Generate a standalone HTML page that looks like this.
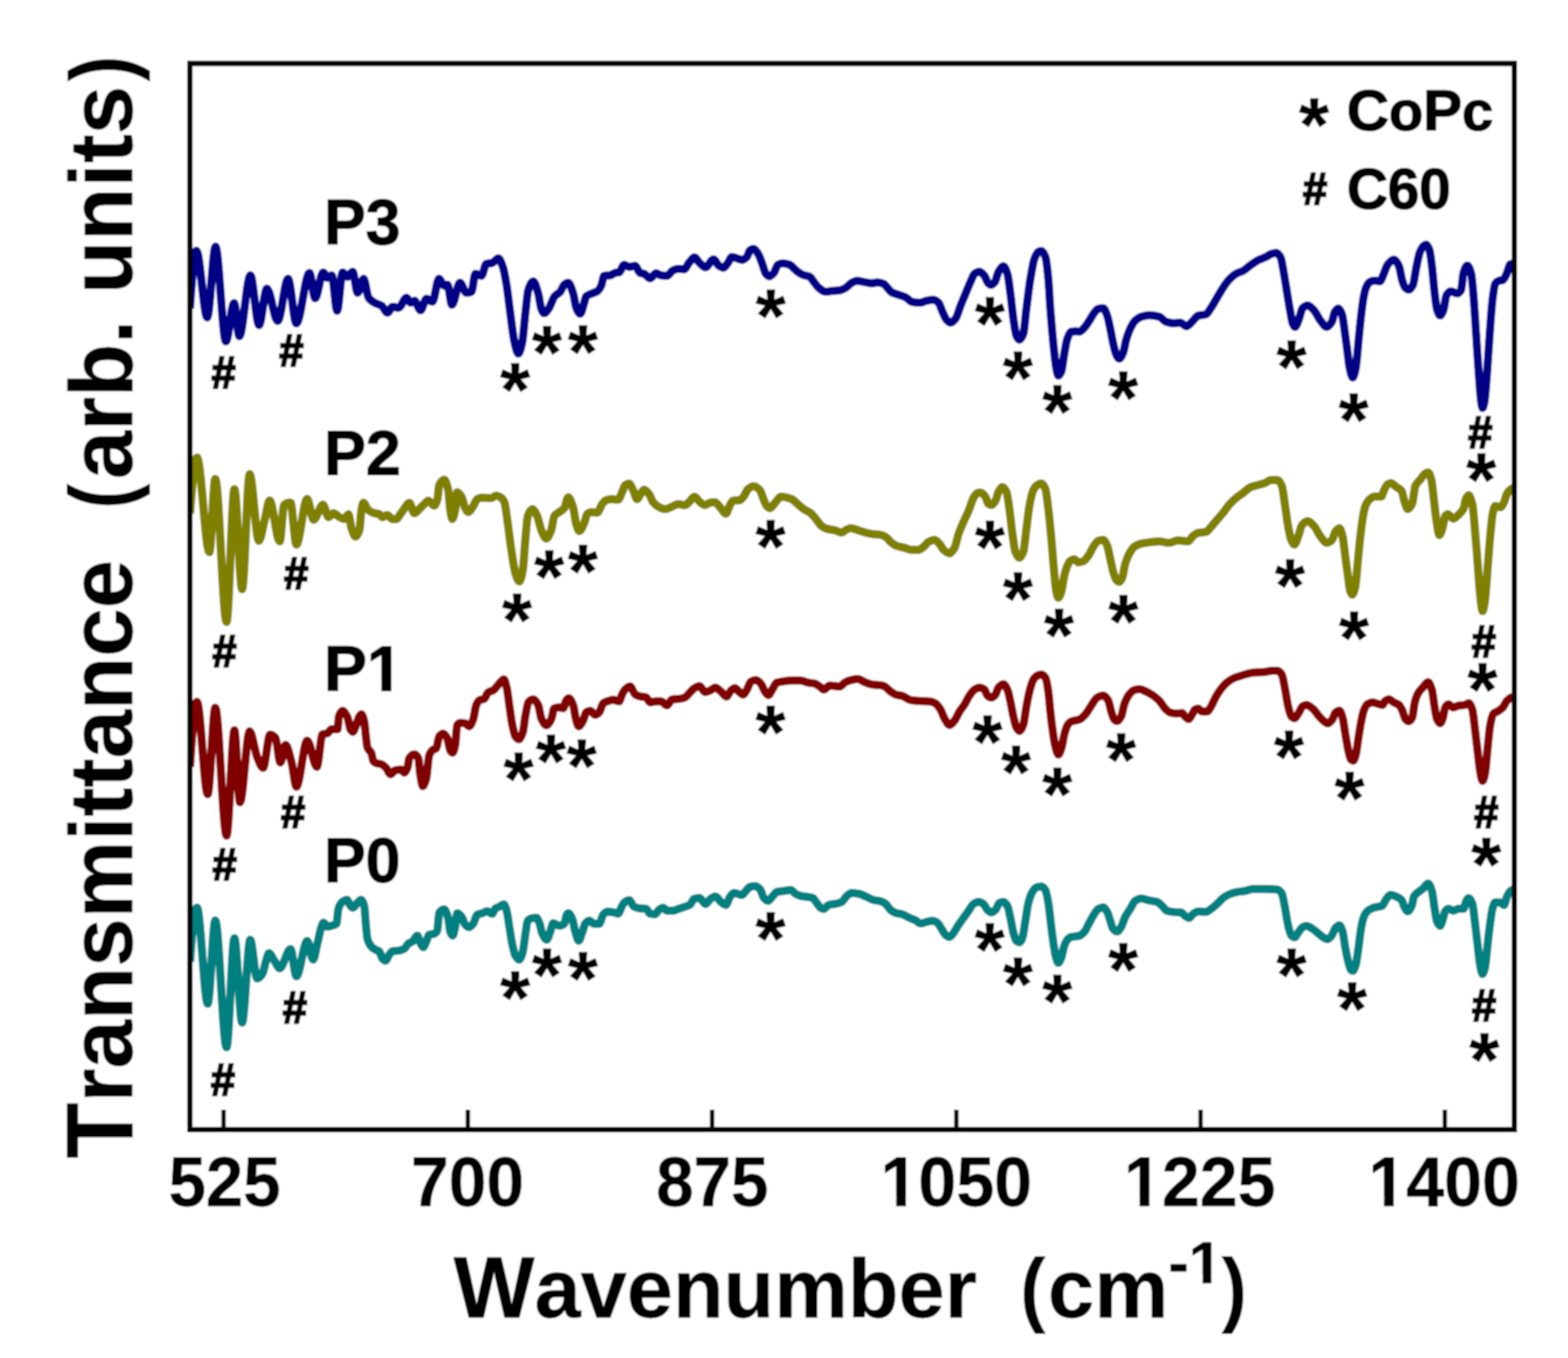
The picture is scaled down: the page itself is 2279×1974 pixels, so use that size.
<!DOCTYPE html>
<html lang="en"><head><meta charset="utf-8"><title>FTIR transmittance spectra</title>
<style>html,body{margin:0;padding:0;background:#fff}body{width:2279px;height:1974px;overflow:hidden}svg{display:block}text{font-family:"Liberation Sans",Arial,Helvetica,sans-serif;fill:#000;font-kerning:none;font-variant-ligatures:none;font-feature-settings:"liga" 0,"clig" 0,"calt" 0,"dlig" 0}.c{fill:none;stroke-linejoin:round;stroke-linecap:butt}</style>
</head><body>
<svg width="2279" height="1974" viewBox="0 0 2279 1974">
<defs><filter id="b" x="-2%" y="-2%" width="104%" height="104%"><feGaussianBlur stdDeviation="1.0"/></filter></defs>
<g filter="url(#b)">
<rect x="0" y="0" width="2279" height="1974" fill="#fff"/>
<clipPath id="cp"><rect x="276" y="92.3" width="1925" height="1549.7"/></clipPath>
<g clip-path="url(#cp)">
<path class="c" d="M276.2,1398.1C279.6,1349.6 282.9,1319.2 286.3,1319.2C291.5,1319.2 296.7,1459.1 301.9,1459.1C305.6,1459.1 309.2,1338.0 312.9,1338.0C318.4,1338.0 323.8,1522.3 329.3,1522.3C333.1,1522.3 336.9,1363.8 340.7,1363.8C344.4,1363.8 348.2,1486.4 351.9,1486.4C355.8,1486.4 359.8,1366.1 363.7,1366.1C367.1,1366.1 370.4,1422.3 373.8,1422.3C376.4,1422.3 379.0,1419.2 381.6,1415.3C383.2,1412.9 384.7,1402.9 386.3,1398.1C387.9,1393.3 389.4,1385.6 391.0,1385.6C393.6,1385.6 396.2,1393.0 398.8,1396.6C401.4,1400.2 404.0,1407.5 406.6,1407.5C411.8,1407.5 417.0,1379.4 422.2,1379.4C425.1,1379.4 427.9,1419.2 430.8,1419.2C436.0,1419.2 441.3,1367.7 446.5,1367.7C449.4,1367.7 452.2,1395.0 455.1,1395.0C457.2,1395.0 459.2,1379.7 461.3,1371.6C463.3,1363.7 465.3,1352.2 467.3,1347.0C468.3,1344.5 469.2,1341.2 470.2,1341.2C472.1,1341.2 474.1,1347.0 476.0,1347.0C477.9,1347.0 479.9,1346.2 481.8,1345.6C484.2,1344.9 486.6,1344.8 489.0,1342.7C490.0,1341.9 490.9,1323.8 491.9,1320.9C493.8,1315.0 495.8,1312.2 497.7,1310.8C499.9,1309.2 502.0,1307.9 504.2,1307.9C505.9,1307.9 507.6,1314.8 509.3,1316.6C510.5,1317.9 511.7,1319.5 512.9,1319.5C515.1,1319.5 517.3,1314.3 519.5,1312.2C521.2,1310.6 522.9,1307.9 524.6,1307.9C526.3,1307.9 527.9,1311.7 529.6,1318.0C530.3,1320.8 531.1,1336.5 531.8,1344.1C532.5,1351.7 533.3,1361.7 534.0,1364.4C535.9,1371.5 537.9,1374.0 539.8,1376.1C541.7,1378.2 543.7,1379.2 545.6,1380.4C547.5,1381.6 549.5,1381.6 551.4,1383.3C552.8,1384.5 554.3,1392.0 555.7,1393.5C557.2,1395.0 558.6,1396.4 560.1,1396.4C562.0,1396.4 564.0,1390.2 565.9,1387.7C567.4,1385.8 568.8,1382.8 570.3,1382.6C573.2,1382.1 576.1,1382.3 579.0,1381.9C581.9,1381.5 584.8,1380.6 587.7,1379.0C589.6,1377.9 591.6,1373.1 593.5,1371.7C595.4,1370.3 597.4,1370.1 599.3,1368.8C601.7,1367.1 604.1,1360.1 606.5,1360.1C608.0,1360.1 609.4,1367.6 610.9,1370.3C612.3,1372.9 613.8,1376.8 615.2,1376.8C616.7,1376.8 618.1,1371.8 619.6,1368.8C621.0,1365.8 622.5,1359.1 623.9,1358.6C626.3,1357.7 628.8,1358.0 631.2,1357.2C632.6,1356.7 634.1,1355.6 635.5,1352.8C636.5,1350.9 637.4,1328.1 638.4,1326.7C640.8,1323.2 643.3,1321.7 645.7,1321.7C647.6,1321.7 649.6,1328.3 651.5,1335.4C652.5,1338.9 653.4,1351.7 654.4,1354.3C655.6,1357.5 656.8,1360.1 658.0,1360.1C659.2,1360.1 660.4,1352.7 661.6,1347.0C662.6,1342.4 663.5,1327.5 664.5,1327.5C666.9,1327.5 669.4,1330.8 671.8,1334.0C673.3,1336.0 674.7,1342.6 676.2,1344.1C678.1,1346.1 680.1,1347.8 682.0,1347.8C683.9,1347.8 685.9,1345.1 687.8,1342.7C689.7,1340.3 691.7,1330.6 693.6,1329.6C696.0,1328.3 698.4,1328.3 700.8,1327.5C703.2,1326.7 705.7,1324.6 708.1,1324.6C710.5,1324.6 712.9,1328.2 715.3,1328.2C716.8,1328.2 718.2,1322.0 719.7,1320.9C721.7,1319.4 723.8,1319.0 725.8,1318.0C728.0,1316.9 730.1,1314.4 732.3,1314.4C733.8,1314.4 735.2,1320.1 736.7,1325.3C737.9,1329.6 739.1,1339.8 740.3,1347.0C741.8,1355.8 743.2,1366.5 744.7,1373.2C746.1,1379.7 747.6,1386.8 749.0,1389.1C750.9,1392.2 752.9,1394.9 754.8,1394.9C756.5,1394.9 758.2,1389.3 759.9,1383.3C761.1,1379.1 762.3,1366.0 763.5,1358.6C764.7,1351.2 765.9,1339.6 767.1,1338.3C769.3,1335.9 771.5,1335.1 773.7,1334.7C775.6,1334.3 777.6,1334.0 779.5,1334.0C780.9,1334.0 782.4,1337.9 783.8,1341.2C785.3,1344.6 786.7,1354.2 788.2,1357.2C790.4,1361.6 792.5,1365.9 794.7,1365.9C796.4,1365.9 798.1,1358.6 799.8,1354.3C801.2,1350.7 802.7,1342.0 804.1,1342.0C807.0,1342.0 809.9,1345.6 812.8,1345.6C815.2,1345.6 817.7,1344.6 820.1,1342.7C821.3,1341.8 822.5,1331.3 823.7,1329.6C824.4,1328.5 825.2,1327.5 825.9,1327.5C827.8,1327.5 829.8,1331.3 831.7,1335.4C833.2,1338.5 834.6,1349.5 836.1,1354.3C837.8,1359.8 839.4,1367.4 841.1,1367.4C842.8,1367.4 844.5,1360.1 846.2,1355.7C847.7,1351.9 849.1,1344.5 850.6,1342.7C852.5,1340.3 854.5,1338.3 856.4,1338.3C858.8,1338.3 861.2,1342.7 863.6,1342.7C866.0,1342.7 868.5,1342.7 870.9,1342.7C872.8,1342.7 874.8,1331.8 876.7,1329.6C878.6,1327.4 880.6,1325.3 882.5,1325.3C885.4,1325.3 888.3,1325.6 891.2,1326.0C893.6,1326.3 896.0,1328.2 898.4,1328.2C900.3,1328.2 902.3,1319.6 904.2,1316.6C905.7,1314.3 907.1,1311.7 908.6,1310.8C910.5,1309.6 912.5,1308.6 914.4,1308.6C916.8,1308.6 919.2,1316.8 921.6,1318.0C924.0,1319.2 926.5,1319.9 928.9,1320.2C932.3,1320.6 935.7,1320.4 939.1,1320.9C941.0,1321.2 943.0,1327.8 944.9,1328.2C947.3,1328.6 949.7,1328.9 952.1,1328.9C954.0,1328.9 956.0,1323.7 957.9,1322.4C959.8,1321.1 961.8,1319.5 963.7,1319.5C965.6,1319.5 967.6,1323.8 969.5,1323.8C972.4,1323.8 975.3,1323.8 978.2,1323.8C981.1,1323.8 984.0,1321.9 986.9,1320.9C989.8,1319.9 992.7,1319.1 995.6,1318.0C998.0,1317.1 1000.5,1316.7 1002.9,1315.1C1004.8,1313.9 1006.8,1307.3 1008.7,1306.7C1011.4,1305.8 1014.0,1305.3 1016.7,1305.3C1019.6,1305.3 1022.5,1314.0 1025.4,1314.0C1027.8,1314.0 1030.2,1308.3 1032.6,1306.7C1035.0,1305.1 1037.5,1303.1 1039.9,1303.1C1042.6,1303.1 1045.2,1309.1 1047.9,1311.1C1050.3,1312.9 1052.7,1315.4 1055.1,1315.4C1057.0,1315.4 1059.0,1306.4 1060.9,1303.8C1062.8,1301.2 1064.8,1298.0 1066.7,1298.0C1070.6,1298.0 1074.4,1300.9 1078.3,1300.9C1080.2,1300.9 1082.2,1297.0 1084.1,1295.1C1086.0,1293.2 1088.0,1289.9 1089.9,1289.3C1092.3,1288.5 1094.8,1287.9 1097.2,1287.9C1099.6,1287.9 1102.0,1289.9 1104.4,1292.2C1106.4,1294.1 1108.3,1303.1 1110.3,1305.3C1112.2,1307.4 1114.2,1309.6 1116.1,1309.6C1118.5,1309.6 1120.9,1304.8 1123.3,1302.4C1125.2,1300.5 1127.2,1297.1 1129.1,1296.6C1132.5,1295.7 1135.9,1295.6 1139.3,1295.1C1142.7,1294.6 1146.0,1293.7 1149.4,1293.7C1151.8,1293.7 1154.3,1298.2 1156.7,1299.5C1159.1,1300.8 1161.5,1301.9 1163.9,1302.4C1167.3,1303.1 1170.7,1303.2 1174.1,1303.8C1176.5,1304.2 1178.9,1304.4 1181.3,1305.3C1183.2,1306.0 1185.2,1310.1 1187.1,1312.5C1189.0,1314.9 1191.0,1318.8 1192.9,1319.8C1194.4,1320.5 1195.8,1321.2 1197.3,1321.2C1199.7,1321.2 1202.1,1316.1 1204.5,1315.4C1207.4,1314.6 1210.3,1314.6 1213.2,1314.0C1216.6,1313.3 1220.0,1312.7 1223.4,1311.1C1225.8,1309.9 1228.3,1304.4 1230.7,1302.4C1233.1,1300.5 1235.5,1298.0 1237.9,1298.0C1241.8,1298.0 1245.6,1298.7 1249.5,1299.5C1252.9,1300.2 1256.3,1302.3 1259.7,1303.8C1263.1,1305.2 1266.4,1307.3 1269.8,1308.2C1273.7,1309.2 1277.5,1309.2 1281.4,1310.4C1283.4,1311.0 1285.3,1312.4 1287.3,1314.0C1289.7,1315.9 1292.1,1320.8 1294.5,1322.7C1296.9,1324.6 1299.4,1326.2 1301.8,1327.0C1305.2,1328.1 1308.5,1328.2 1311.9,1329.2C1315.3,1330.2 1318.7,1332.8 1322.1,1334.3C1325.0,1335.6 1327.9,1336.5 1330.8,1337.9C1333.2,1339.1 1335.6,1342.3 1338.0,1342.3C1340.9,1342.3 1343.8,1340.7 1346.7,1340.1C1349.6,1339.5 1352.5,1338.6 1355.4,1338.6C1357.8,1338.6 1360.3,1339.9 1362.7,1341.5C1364.6,1342.7 1366.6,1347.4 1368.5,1350.3C1370.4,1353.2 1372.4,1357.5 1374.3,1359.0C1376.2,1360.5 1378.2,1361.9 1380.1,1361.9C1382.0,1361.9 1384.0,1358.5 1385.9,1356.1C1388.3,1353.1 1390.8,1348.0 1393.2,1344.4C1395.6,1340.8 1398.0,1337.7 1400.4,1334.3C1402.8,1330.9 1405.3,1327.5 1407.7,1324.1C1410.1,1320.7 1412.5,1315.5 1414.9,1314.0C1417.3,1312.5 1419.8,1311.1 1422.2,1311.1C1424.6,1311.1 1427.0,1312.4 1429.4,1314.0C1431.3,1315.3 1433.3,1321.0 1435.2,1322.7C1437.1,1324.4 1439.1,1326.3 1441.0,1326.3C1442.9,1326.3 1444.9,1324.5 1446.8,1322.7C1448.7,1320.9 1450.7,1313.3 1452.6,1312.5C1454.5,1311.7 1456.5,1311.1 1458.4,1311.1C1460.3,1311.1 1462.3,1313.7 1464.2,1316.9C1465.7,1319.3 1467.1,1327.8 1468.6,1334.3C1470.0,1340.7 1471.5,1351.1 1472.9,1356.1C1474.4,1361.2 1475.8,1366.5 1477.3,1367.7C1478.7,1368.9 1480.2,1369.8 1481.6,1369.8C1483.1,1369.8 1484.5,1366.8 1486.0,1363.3C1487.4,1359.9 1488.9,1347.0 1490.3,1338.6C1491.8,1330.0 1493.2,1318.1 1494.7,1312.5C1496.6,1305.1 1498.6,1299.7 1500.5,1296.6C1502.4,1293.5 1504.4,1290.7 1506.3,1290.0C1508.7,1289.2 1511.2,1288.6 1513.6,1288.6C1515.5,1288.6 1517.5,1290.8 1519.4,1293.7C1520.8,1295.9 1522.3,1304.3 1523.7,1312.5C1524.9,1319.4 1526.1,1331.9 1527.3,1341.5C1528.5,1351.3 1529.8,1362.5 1531.0,1370.6C1532.2,1378.5 1533.4,1386.8 1534.6,1390.9C1535.8,1395.0 1537.0,1399.6 1538.2,1399.6C1539.7,1399.6 1541.1,1395.8 1542.6,1392.3C1544.0,1388.9 1545.5,1378.7 1546.9,1374.9C1548.4,1371.0 1549.8,1367.8 1551.3,1366.2C1553.2,1364.1 1555.2,1362.4 1557.1,1361.9C1561.0,1361.0 1564.8,1361.3 1568.7,1360.4C1571.1,1359.8 1573.6,1357.3 1576.0,1354.6C1578.4,1351.9 1580.8,1345.8 1583.2,1341.5C1585.6,1337.1 1588.1,1332.1 1590.5,1328.5C1592.4,1325.7 1594.4,1322.1 1596.3,1321.2C1598.7,1320.0 1601.1,1319.1 1603.5,1319.1C1605.4,1319.1 1607.4,1322.4 1609.3,1325.6C1610.8,1328.0 1612.2,1334.4 1613.7,1338.6C1615.1,1342.7 1616.6,1348.8 1618.0,1350.3C1619.9,1352.3 1621.9,1353.9 1623.8,1353.9C1625.7,1353.9 1627.7,1350.4 1629.6,1347.4C1631.5,1344.4 1633.5,1336.6 1635.4,1332.8C1637.8,1328.0 1640.3,1325.1 1642.7,1321.2C1645.1,1317.4 1647.5,1311.2 1649.9,1309.6C1652.8,1307.7 1655.7,1306.0 1658.6,1306.0C1662.5,1306.0 1666.4,1308.1 1670.3,1308.9C1674.2,1309.7 1678.0,1309.9 1681.9,1311.1C1684.3,1311.9 1686.7,1314.8 1689.1,1316.9C1691.5,1319.1 1694.0,1323.4 1696.4,1324.1C1699.3,1325.0 1702.2,1325.3 1705.1,1325.6C1709.0,1326.0 1712.8,1325.8 1716.7,1326.3C1718.6,1326.5 1720.6,1330.2 1722.5,1331.4C1724.4,1332.6 1726.4,1334.3 1728.3,1334.3C1730.2,1334.3 1732.2,1329.8 1734.1,1328.5C1736.5,1326.9 1738.9,1324.9 1741.3,1324.9C1745.2,1324.9 1749.0,1325.6 1752.9,1325.6C1755.3,1325.6 1757.8,1322.9 1760.2,1321.2C1763.1,1319.2 1766.0,1316.6 1768.9,1314.0C1771.8,1311.4 1774.7,1307.4 1777.6,1305.3C1781.0,1302.8 1784.4,1300.8 1787.8,1299.5C1791.2,1298.2 1794.5,1297.2 1797.9,1296.6C1801.8,1295.9 1805.6,1295.8 1809.5,1295.1C1813.4,1294.4 1817.2,1292.2 1821.1,1292.2C1825.9,1292.2 1830.8,1292.2 1835.6,1292.2C1840.1,1292.2 1844.7,1292.3 1849.2,1292.5C1852.0,1292.6 1854.7,1292.8 1857.5,1293.4C1859.3,1293.8 1861.2,1295.9 1863.0,1298.9C1864.5,1301.4 1866.1,1311.6 1867.6,1319.2C1869.1,1326.8 1870.7,1338.6 1872.2,1344.9C1873.7,1351.2 1875.3,1358.2 1876.8,1359.7C1878.3,1361.2 1879.9,1362.4 1881.4,1362.4C1883.6,1362.4 1885.7,1356.7 1887.9,1354.1C1889.7,1351.9 1891.6,1348.6 1893.4,1347.7C1895.2,1346.8 1897.1,1345.9 1898.9,1345.9C1902.0,1345.9 1905.0,1348.6 1908.1,1350.5C1911.2,1352.4 1914.2,1355.4 1917.3,1357.8C1919.8,1359.7 1922.2,1362.2 1924.7,1363.4C1926.2,1364.2 1927.8,1365.2 1929.3,1365.2C1931.4,1365.2 1933.6,1362.3 1935.7,1359.7C1937.6,1357.4 1939.4,1350.5 1941.3,1348.6C1943.1,1346.8 1945.0,1344.9 1946.8,1344.9C1948.3,1344.9 1949.9,1349.4 1951.4,1354.1C1952.6,1357.9 1953.9,1369.6 1955.1,1376.2C1956.6,1384.4 1958.2,1392.7 1959.7,1398.3C1960.9,1402.8 1962.2,1408.1 1963.4,1409.4C1964.3,1410.4 1965.2,1411.2 1966.1,1411.2C1967.6,1411.2 1969.2,1406.8 1970.7,1402.0C1971.9,1398.2 1973.2,1386.6 1974.4,1378.1C1975.6,1369.6 1976.9,1357.4 1978.1,1350.5C1979.3,1343.6 1980.6,1337.0 1981.8,1333.9C1983.6,1329.3 1985.5,1326.4 1987.3,1324.7C1989.8,1322.4 1992.2,1321.0 1994.7,1320.1C1997.1,1319.2 1999.6,1318.8 2002.0,1318.2C2004.5,1317.6 2006.9,1317.5 2009.4,1316.4C2010.9,1315.7 2012.5,1310.1 2014.0,1308.1C2016.4,1304.9 2018.9,1300.8 2021.3,1300.8C2024.1,1300.8 2026.8,1302.3 2029.6,1303.5C2032.1,1304.6 2034.5,1305.5 2037.0,1308.1C2038.5,1309.7 2040.1,1316.7 2041.6,1319.2C2043.1,1321.7 2044.7,1324.7 2046.2,1324.7C2048.0,1324.7 2049.9,1321.1 2051.7,1317.3C2052.9,1314.7 2054.2,1304.7 2055.4,1302.6C2057.2,1299.6 2059.1,1298.7 2060.9,1297.1C2063.4,1295.0 2065.8,1293.7 2068.3,1291.6C2070.8,1289.5 2073.2,1284.2 2075.7,1284.2C2077.5,1284.2 2079.4,1289.4 2081.2,1295.2C2082.4,1299.1 2083.7,1311.8 2084.9,1319.2C2086.1,1326.4 2087.3,1336.6 2088.5,1339.4C2090.0,1342.9 2091.6,1345.9 2093.1,1345.9C2094.3,1345.9 2095.6,1341.0 2096.8,1337.6C2098.0,1334.2 2099.3,1326.3 2100.5,1324.7C2102.0,1322.6 2103.6,1321.0 2105.1,1321.0C2107.6,1321.0 2110.0,1323.8 2112.5,1323.8C2114.9,1323.8 2117.4,1321.0 2119.8,1321.0C2122.3,1321.0 2124.7,1321.0 2127.2,1321.0C2128.4,1321.0 2129.7,1312.2 2130.9,1310.0C2132.1,1307.8 2133.4,1305.4 2134.6,1305.4C2136.4,1305.4 2138.3,1308.8 2140.1,1313.6C2141.3,1316.8 2142.6,1331.5 2143.8,1341.3C2145.0,1351.1 2146.3,1362.4 2147.5,1372.6C2148.7,1382.6 2149.9,1395.8 2151.1,1402.0C2152.3,1408.3 2153.6,1415.8 2154.8,1415.8C2156.0,1415.8 2157.3,1410.9 2158.5,1405.7C2159.7,1400.5 2161.0,1383.3 2162.2,1372.6C2163.4,1361.9 2164.7,1349.9 2165.9,1341.3C2167.1,1332.7 2168.4,1323.0 2169.6,1319.2C2170.8,1315.5 2172.0,1311.8 2173.2,1311.8C2175.7,1311.8 2178.1,1311.8 2180.6,1311.8C2182.4,1311.8 2184.3,1315.5 2186.1,1315.5C2187.3,1315.5 2188.6,1307.1 2189.8,1304.4C2191.6,1300.4 2193.5,1296.6 2195.3,1295.2C2197.2,1293.8 2199.0,1292.5 2200.9,1292.5" stroke="#008080" stroke-width="12"/>
<path class="c" d="M276.2,1114.7C279.6,1059.4 282.9,1020.2 286.3,1020.2C291.5,1020.2 296.7,1154.5 301.9,1154.5C305.6,1154.5 309.2,1028.8 312.9,1028.8C318.4,1028.8 323.8,1214.7 329.3,1214.7C333.1,1214.7 336.9,1061.6 340.7,1061.6C343.4,1061.6 346.1,1166.2 348.8,1166.2C353.5,1166.2 358.2,1063.1 362.9,1063.1C366.5,1063.1 370.2,1092.1 373.8,1100.6C376.7,1107.3 379.5,1116.2 382.4,1116.2C385.8,1116.2 389.2,1067.8 392.6,1067.8C395.2,1067.8 397.8,1069.7 400.4,1072.5C402.7,1075.1 405.1,1108.4 407.4,1108.4C410.0,1108.4 412.6,1082.7 415.2,1082.7C418.1,1082.7 420.9,1097.6 423.8,1108.4C426.1,1117.2 428.5,1143.6 430.8,1143.6C436.0,1143.6 441.3,1076.4 446.5,1076.4C451.2,1076.4 455.8,1114.7 460.5,1114.7C463.2,1114.7 466.0,1068.5 468.7,1067.4C471.1,1066.5 473.6,1066.8 476.0,1065.9C477.9,1065.2 479.9,1060.1 481.8,1060.1C484.7,1060.1 487.6,1060.1 490.5,1060.1C491.2,1060.1 491.9,1043.3 492.6,1041.2C494.3,1036.2 496.0,1033.3 497.7,1033.3C500.1,1033.3 502.6,1037.7 505.0,1042.7C506.4,1045.6 507.9,1057.8 509.3,1060.1C510.5,1062.0 511.7,1063.7 512.9,1063.7C514.6,1063.7 516.3,1056.8 518.0,1052.8C519.5,1049.3 520.9,1043.3 522.4,1041.2C523.4,1039.8 524.3,1038.3 525.3,1038.3C526.7,1038.3 528.2,1043.5 529.6,1049.9C530.3,1053.2 531.1,1064.3 531.8,1070.3C532.5,1076.3 533.3,1084.2 534.0,1086.2C535.9,1091.5 537.9,1090.5 539.8,1094.9C540.8,1097.1 541.7,1105.3 542.7,1106.5C544.1,1108.2 545.6,1108.9 547.0,1109.4C549.4,1110.2 551.9,1110.1 554.3,1110.9C556.7,1111.7 559.1,1114.2 561.5,1116.7C563.5,1118.8 565.4,1125.4 567.4,1125.4C569.8,1125.4 572.2,1120.0 574.6,1119.6C577.5,1119.1 580.4,1118.8 583.3,1118.8C584.8,1118.8 586.2,1123.2 587.7,1123.2C589.1,1123.2 590.6,1120.1 592.0,1116.7C593.0,1114.4 593.9,1103.7 594.9,1102.2C597.3,1098.5 599.8,1096.4 602.2,1096.4C604.1,1096.4 606.1,1098.4 608.0,1102.2C609.0,1104.1 609.9,1121.1 610.9,1126.8C612.1,1133.9 613.3,1142.8 614.5,1142.8C616.2,1142.8 617.9,1137.3 619.6,1131.2C621.0,1126.1 622.5,1101.7 623.9,1097.8C625.4,1093.8 626.8,1091.8 628.3,1090.6C630.2,1089.1 632.2,1089.5 634.1,1087.7C635.5,1086.4 637.0,1071.9 638.4,1070.3C640.3,1068.1 642.3,1066.6 644.2,1066.6C646.1,1066.6 648.1,1069.7 650.0,1073.2C651.5,1075.9 652.9,1088.3 654.4,1090.6C655.6,1092.5 656.8,1094.2 658.0,1094.2C659.2,1094.2 660.4,1089.0 661.6,1083.3C662.6,1078.7 663.5,1055.9 664.5,1054.3C666.0,1051.9 667.4,1050.7 668.9,1050.7C671.3,1050.7 673.8,1051.0 676.2,1051.4C678.1,1051.7 680.1,1055.7 682.0,1055.7C683.9,1055.7 685.9,1050.6 687.8,1045.6C689.2,1041.9 690.7,1028.8 692.1,1025.3C693.6,1021.7 695.0,1018.8 696.5,1018.0C698.9,1016.7 701.3,1017.1 703.7,1015.9C705.6,1014.9 707.6,1007.7 709.5,1006.4C711.9,1004.8 714.4,1004.9 716.8,1003.5C719.8,1001.8 722.8,996.4 725.8,993.4C728.0,991.3 730.1,987.6 732.3,987.6C733.8,987.6 735.2,994.5 736.7,1000.6C737.9,1005.6 739.1,1017.2 740.3,1025.3C741.8,1035.2 743.2,1047.3 744.7,1054.3C746.1,1061.1 747.6,1068.3 749.0,1070.3C750.7,1072.7 752.4,1074.6 754.1,1074.6C756.0,1074.6 758.0,1070.0 759.9,1064.4C761.1,1060.9 762.3,1047.7 763.5,1041.2C765.0,1033.3 766.4,1022.6 767.9,1020.9C770.3,1018.2 772.7,1016.6 775.1,1016.6C777.5,1016.6 780.0,1020.5 782.4,1025.3C783.8,1028.1 785.3,1040.9 786.7,1044.1C789.1,1049.5 791.6,1054.3 794.0,1054.3C796.4,1054.3 798.8,1050.1 801.2,1045.6C802.7,1042.8 804.1,1030.2 805.6,1029.6C808.0,1028.6 810.4,1028.2 812.8,1028.2C814.7,1028.2 816.7,1029.6 818.6,1029.6C820.1,1029.6 821.5,1019.8 823.0,1018.0C824.2,1016.5 825.4,1015.1 826.6,1015.1C828.8,1015.1 831.0,1019.8 833.2,1025.3C834.4,1028.3 835.6,1039.8 836.8,1044.1C838.2,1049.2 839.7,1055.7 841.1,1055.7C843.3,1055.7 845.5,1051.0 847.7,1047.0C849.1,1044.4 850.6,1036.4 852.0,1035.4C853.9,1034.1 855.9,1033.3 857.8,1033.3C860.2,1033.3 862.7,1039.1 865.1,1039.1C867.0,1039.1 869.0,1037.3 870.9,1035.4C872.8,1033.5 874.8,1024.0 876.7,1022.4C878.6,1020.8 880.6,1020.2 882.5,1019.5C885.4,1018.5 888.3,1017.3 891.2,1017.3C894.1,1017.3 897.0,1019.5 899.9,1019.5C901.3,1019.5 902.8,1012.1 904.2,1009.3C905.7,1006.5 907.1,1003.5 908.6,1002.1C911.0,999.9 913.4,997.7 915.8,997.7C918.2,997.7 920.7,1007.7 923.1,1009.3C925.5,1010.8 927.9,1011.6 930.3,1012.2C933.2,1012.9 936.2,1012.8 939.1,1013.7C941.0,1014.3 943.0,1020.9 944.9,1020.9C947.8,1020.9 950.7,1019.5 953.6,1019.5C956.0,1019.5 958.4,1019.5 960.8,1019.5C963.7,1019.5 966.6,1025.3 969.5,1025.3C971.9,1025.3 974.4,1016.9 976.8,1016.6C980.2,1016.1 983.5,1016.3 986.9,1015.9C989.8,1015.6 992.7,1014.9 995.6,1013.7C998.0,1012.7 1000.5,1008.8 1002.9,1006.4C1004.8,1004.5 1006.8,1002.1 1008.7,1000.9C1011.4,999.2 1014.0,997.3 1016.7,997.3C1019.4,997.3 1022.0,1006.0 1024.7,1006.0C1027.1,1006.0 1029.5,1004.7 1031.9,1003.8C1034.6,1002.8 1037.2,999.5 1039.9,999.5C1042.6,999.5 1045.2,1003.2 1047.9,1005.3C1050.6,1007.4 1053.2,1012.5 1055.9,1012.5C1058.1,1012.5 1060.2,1005.6 1062.4,1003.8C1064.3,1002.2 1066.3,1000.2 1068.2,1000.2C1070.1,1000.2 1072.1,1003.7 1074.0,1005.3C1075.9,1006.9 1077.9,1009.6 1079.8,1009.6C1081.7,1009.6 1083.7,1005.4 1085.6,1002.4C1087.5,999.4 1089.5,991.9 1091.4,990.8C1093.8,989.5 1096.2,988.6 1098.6,988.6C1101.0,988.6 1103.5,991.1 1105.9,993.7C1107.8,995.7 1109.8,1002.7 1111.7,1005.3C1113.4,1007.6 1115.1,1010.4 1116.8,1010.4C1119.0,1010.4 1121.1,1004.1 1123.3,1000.9C1125.2,998.0 1127.2,992.9 1129.1,992.2C1131.5,991.3 1134.0,991.2 1136.4,990.8C1140.7,990.2 1145.1,989.3 1149.4,989.3C1154.2,989.3 1159.1,989.3 1163.9,989.3C1167.3,989.3 1170.7,991.5 1174.1,992.2C1177.5,992.9 1180.8,992.9 1184.2,993.7C1186.6,994.3 1189.1,996.4 1191.5,998.0C1193.4,999.3 1195.4,1002.4 1197.3,1002.4C1200.2,1002.4 1203.1,996.6 1206.0,996.6C1210.8,996.6 1215.7,998.0 1220.5,998.0C1222.9,998.0 1225.4,993.5 1227.8,992.2C1230.7,990.6 1233.6,989.2 1236.5,988.6C1239.9,987.9 1243.2,987.1 1246.6,987.1C1250.0,987.1 1253.4,990.3 1256.8,991.5C1260.7,992.9 1264.5,994.5 1268.4,995.1C1273.2,995.9 1278.1,995.7 1282.9,996.6C1284.4,996.9 1285.8,997.9 1287.3,998.8C1289.7,1000.3 1292.1,1003.6 1294.5,1005.3C1296.9,1007.0 1299.4,1008.8 1301.8,1009.6C1305.2,1010.7 1308.5,1010.8 1311.9,1011.8C1315.8,1013.0 1319.6,1016.9 1323.5,1017.6C1328.3,1018.4 1333.2,1018.8 1338.0,1019.1C1342.8,1019.4 1347.7,1019.3 1352.5,1019.8C1354.9,1020.0 1357.4,1021.2 1359.8,1022.7C1362.2,1024.1 1364.6,1027.6 1367.0,1031.4C1368.9,1034.5 1370.9,1041.2 1372.8,1044.4C1375.2,1048.4 1377.7,1053.9 1380.1,1053.9C1382.5,1053.9 1385.0,1050.3 1387.4,1047.4C1389.8,1044.5 1392.2,1038.1 1394.6,1034.3C1397.0,1030.5 1399.5,1027.9 1401.9,1024.1C1404.3,1020.3 1406.7,1014.5 1409.1,1011.1C1411.5,1007.6 1414.0,1003.9 1416.4,1002.4C1418.8,1001.0 1421.2,999.5 1423.6,999.5C1426.0,999.5 1428.5,1000.7 1430.9,1002.4C1432.3,1003.4 1433.8,1009.9 1435.2,1011.1C1437.1,1012.7 1439.1,1014.0 1441.0,1014.0C1442.9,1014.0 1444.9,1011.9 1446.8,1009.6C1448.3,1007.9 1449.7,1001.2 1451.2,999.5C1453.6,996.8 1456.0,994.4 1458.4,994.4C1460.3,994.4 1462.3,998.4 1464.2,1002.4C1465.7,1005.5 1467.1,1013.3 1468.6,1019.8C1470.0,1026.2 1471.5,1035.4 1472.9,1041.5C1474.4,1047.7 1475.8,1054.9 1477.3,1057.5C1478.7,1060.1 1480.2,1062.6 1481.6,1062.6C1483.5,1062.6 1485.5,1058.3 1487.4,1053.2C1488.9,1049.4 1490.3,1034.9 1491.8,1027.0C1493.3,1019.1 1494.7,1010.8 1496.2,1005.3C1498.1,998.0 1500.1,990.8 1502.0,987.9C1503.9,985.0 1505.9,982.9 1507.8,982.1C1509.7,981.3 1511.7,980.6 1513.6,980.6C1515.5,980.6 1517.5,982.4 1519.4,985.0C1520.8,986.9 1522.3,995.9 1523.7,1005.3C1524.7,1011.6 1525.6,1025.6 1526.6,1034.3C1527.8,1045.0 1529.0,1055.1 1530.2,1063.3C1531.4,1071.7 1532.7,1080.5 1533.9,1085.1C1535.3,1090.5 1536.8,1096.7 1538.2,1096.7C1539.7,1096.7 1541.1,1092.1 1542.6,1088.0C1544.0,1084.0 1545.5,1072.9 1546.9,1067.7C1548.4,1062.3 1549.8,1056.8 1551.3,1054.6C1553.2,1051.6 1555.2,1049.6 1557.1,1048.8C1561.0,1047.1 1564.8,1047.4 1568.7,1045.9C1571.6,1044.8 1574.5,1041.7 1577.4,1038.6C1580.3,1035.5 1583.2,1029.7 1586.1,1025.6C1589.0,1021.5 1591.9,1015.5 1594.8,1014.0C1597.7,1012.5 1600.6,1011.1 1603.5,1011.1C1605.9,1011.1 1608.4,1014.3 1610.8,1018.3C1612.2,1020.7 1613.7,1029.9 1615.1,1034.3C1616.6,1038.8 1618.0,1044.6 1619.5,1045.9C1620.9,1047.1 1622.4,1048.1 1623.8,1048.1C1625.7,1048.1 1627.7,1045.0 1629.6,1041.5C1631.1,1038.8 1632.5,1028.1 1634.0,1024.1C1636.4,1017.5 1638.8,1012.6 1641.2,1009.6C1643.6,1006.6 1646.1,1003.9 1648.5,1003.1C1650.9,1002.3 1653.3,1001.7 1655.7,1001.7C1659.1,1001.7 1662.5,1003.8 1665.9,1005.3C1669.3,1006.8 1672.7,1008.8 1676.1,1011.1C1679.0,1013.1 1681.9,1015.3 1684.8,1018.3C1687.7,1021.3 1690.6,1027.0 1693.5,1029.9C1695.9,1032.3 1698.3,1035.0 1700.7,1035.7C1703.6,1036.5 1706.5,1037.2 1709.4,1037.2C1712.3,1037.2 1715.2,1036.5 1718.1,1036.5C1719.6,1036.5 1721.0,1040.2 1722.5,1041.5C1724.2,1043.0 1725.9,1045.2 1727.6,1045.2C1729.3,1045.2 1730.9,1041.0 1732.6,1038.6C1734.1,1036.5 1735.5,1032.2 1737.0,1031.4C1738.4,1030.6 1739.9,1029.9 1741.3,1029.9C1743.2,1029.9 1745.2,1034.3 1747.1,1034.3C1749.5,1034.3 1752.0,1034.3 1754.4,1034.3C1756.3,1034.3 1758.3,1030.0 1760.2,1027.0C1762.6,1023.3 1765.0,1016.6 1767.4,1012.5C1770.3,1007.5 1773.3,1003.0 1776.2,999.5C1779.1,996.0 1782.0,992.9 1784.9,990.8C1788.3,988.3 1791.6,986.4 1795.0,985.0C1798.9,983.4 1802.7,982.4 1806.6,981.3C1811.4,979.9 1816.3,978.1 1821.1,977.7C1825.9,977.3 1830.8,977.4 1835.6,977.0C1840.1,976.7 1844.7,975.0 1849.2,975.0C1851.7,975.0 1854.1,975.0 1856.6,975.0C1858.7,975.0 1860.9,977.3 1863.0,980.5C1864.5,982.8 1866.1,993.2 1867.6,1000.8C1869.1,1008.4 1870.7,1020.2 1872.2,1026.5C1873.7,1032.8 1875.3,1039.8 1876.8,1041.3C1878.3,1042.8 1879.9,1044.0 1881.4,1044.0C1883.6,1044.0 1885.7,1038.8 1887.9,1035.7C1889.7,1033.0 1891.6,1027.5 1893.4,1026.5C1895.2,1025.5 1897.1,1024.7 1898.9,1024.7C1902.0,1024.7 1905.0,1027.7 1908.1,1030.2C1911.2,1032.7 1914.2,1038.0 1917.3,1041.3C1919.8,1044.0 1922.2,1047.0 1924.7,1048.6C1926.5,1049.8 1928.4,1051.4 1930.2,1051.4C1932.0,1051.4 1933.9,1049.0 1935.7,1046.8C1937.6,1044.6 1939.4,1037.2 1941.3,1035.7C1943.1,1034.3 1945.0,1033.0 1946.8,1033.0C1948.3,1033.0 1949.9,1038.1 1951.4,1043.1C1952.6,1047.1 1953.9,1058.1 1955.1,1065.2C1956.6,1074.1 1958.2,1084.5 1959.7,1091.0C1960.9,1096.3 1962.2,1102.8 1963.4,1103.9C1964.6,1104.9 1965.8,1105.7 1967.0,1105.7C1968.2,1105.7 1969.5,1100.9 1970.7,1096.5C1971.9,1092.1 1973.2,1080.3 1974.4,1072.6C1975.6,1064.9 1976.9,1056.8 1978.1,1050.5C1979.3,1044.2 1980.6,1037.2 1981.8,1033.9C1983.6,1029.0 1985.5,1025.0 1987.3,1023.8C1989.8,1022.2 1992.2,1021.0 1994.7,1021.0C1997.1,1021.0 1999.6,1022.2 2002.0,1022.8C2004.5,1023.4 2006.9,1024.7 2009.4,1024.7C2010.6,1024.7 2011.9,1020.2 2013.1,1019.2C2014.9,1017.8 2016.8,1016.4 2018.6,1016.4C2021.0,1016.4 2023.5,1019.6 2025.9,1021.0C2028.4,1022.4 2030.8,1022.7 2033.3,1024.7C2034.8,1025.9 2036.4,1029.0 2037.9,1032.1C2039.4,1035.2 2041.0,1043.0 2042.5,1044.9C2044.0,1046.8 2045.6,1048.6 2047.1,1048.6C2048.9,1048.6 2050.8,1046.4 2052.6,1043.1C2053.8,1040.9 2055.1,1025.8 2056.3,1021.0C2057.8,1015.1 2059.4,1010.8 2060.9,1008.1C2063.4,1003.7 2065.8,1001.6 2068.3,998.9C2070.8,996.2 2073.2,991.6 2075.7,991.6C2077.5,991.6 2079.4,996.8 2081.2,1002.6C2082.4,1006.5 2083.7,1019.5 2084.9,1026.5C2086.1,1033.3 2087.3,1042.2 2088.5,1044.9C2090.0,1048.4 2091.6,1051.4 2093.1,1051.4C2094.3,1051.4 2095.6,1048.0 2096.8,1044.9C2098.0,1041.8 2099.3,1030.5 2100.5,1028.4C2102.0,1025.8 2103.6,1023.8 2105.1,1023.8C2107.6,1023.8 2110.0,1028.4 2112.5,1028.4C2114.9,1028.4 2117.4,1026.0 2119.8,1025.6C2122.9,1025.1 2126.0,1025.2 2129.1,1024.7C2130.9,1024.4 2132.8,1021.9 2134.6,1021.9C2136.4,1021.9 2138.3,1026.4 2140.1,1032.1C2141.3,1035.9 2142.6,1049.9 2143.8,1059.7C2145.0,1069.5 2146.3,1080.8 2147.5,1091.0C2148.7,1101.0 2149.9,1113.9 2151.1,1120.4C2152.3,1127.0 2153.6,1135.2 2154.8,1135.2C2156.0,1135.2 2157.3,1129.8 2158.5,1124.1C2159.7,1118.4 2161.0,1098.9 2162.2,1087.3C2163.4,1075.7 2164.7,1060.5 2165.9,1054.1C2167.4,1046.1 2169.0,1039.2 2170.5,1037.6C2172.6,1035.4 2174.8,1035.3 2176.9,1033.9C2179.4,1032.3 2181.8,1031.0 2184.3,1028.4C2186.1,1026.5 2188.0,1021.1 2189.8,1019.2C2192.3,1016.6 2194.7,1014.5 2197.2,1013.6C2198.4,1013.2 2199.7,1012.8 2200.9,1012.7" stroke="#800000" stroke-width="12"/>
<path class="c" d="M276.2,746.2C279.6,700.2 282.9,665.0 286.3,665.0C292.3,665.0 298.3,802.5 304.3,802.5C307.2,802.5 310.0,696.2 312.9,696.2C318.4,696.2 323.8,904.1 329.3,904.1C333.1,904.1 336.9,711.1 340.7,711.1C344.4,711.1 348.2,856.4 351.9,856.4C355.6,856.4 359.2,689.2 362.9,689.2C367.3,689.2 371.8,786.1 376.2,786.1C379.1,786.1 381.9,766.4 384.8,755.6C387.1,746.8 389.5,727.5 391.8,727.5C396.7,727.5 401.7,786.9 406.6,786.9C408.7,786.9 410.8,735.3 412.9,733.8C416.0,731.6 419.1,730.6 422.2,730.6C425.1,730.6 427.9,791.6 430.8,791.6C436.0,791.6 441.3,725.2 446.5,725.2C449.6,725.2 452.7,755.6 455.8,755.6C460.3,755.6 464.9,733.6 469.4,733.6C472.1,733.6 474.7,751.7 477.4,751.7C479.8,751.7 482.3,745.9 484.7,745.9C487.6,745.9 490.5,750.3 493.4,751.7C495.8,752.9 498.2,754.6 500.6,754.6C502.5,754.6 504.5,747.4 506.4,747.4C507.9,747.4 509.3,763.4 510.8,767.7C512.7,773.4 514.7,780.0 516.6,780.0C518.5,780.0 520.5,776.5 522.4,770.6C523.4,767.7 524.3,746.8 525.3,741.5C526.3,736.2 527.2,730.7 528.2,730.7C530.6,730.7 533.0,739.7 535.4,741.5C538.3,743.7 541.2,745.1 544.1,745.9C546.5,746.6 549.0,746.5 551.4,747.4C552.8,747.9 554.3,751.7 555.7,751.7C558.1,751.7 560.6,748.8 563.0,748.8C565.4,748.8 567.9,754.6 570.3,754.6C572.2,754.6 574.2,754.6 576.1,754.6C578.0,754.6 580.0,750.0 581.9,747.4C584.3,744.2 586.7,740.2 589.1,737.2C591.0,734.8 593.0,730.7 594.9,730.7C597.3,730.7 599.8,745.9 602.2,745.9C604.6,745.9 607.0,742.2 609.4,740.1C611.8,737.9 614.3,735.0 616.7,732.8C618.6,731.0 620.6,727.8 622.5,727.8C625.4,727.8 628.3,735.0 631.2,735.0C632.6,735.0 634.1,731.4 635.5,727.0C636.5,724.0 637.4,707.4 638.4,705.3C640.8,700.1 643.3,697.3 645.7,697.3C647.6,697.3 649.6,703.9 651.5,712.5C652.5,716.8 653.4,735.5 654.4,741.5C655.4,747.5 656.3,754.6 657.3,754.6C658.7,754.6 660.2,748.2 661.6,741.5C662.6,737.0 663.5,715.4 664.5,715.4C666.4,715.4 668.4,718.3 670.3,721.2C672.3,724.1 674.2,735.0 676.2,738.6C677.6,741.2 679.1,744.4 680.5,744.4C682.9,744.4 685.4,739.2 687.8,735.7C689.7,732.9 691.7,726.8 693.6,725.6C695.5,724.4 697.5,723.4 699.4,723.4C704.2,723.4 709.1,724.1 713.9,724.1C716.3,724.1 718.7,720.5 721.1,720.5C723.2,720.5 725.2,721.6 727.3,722.7C729.2,723.8 731.2,725.8 733.1,729.9C734.5,733.0 736.0,746.5 737.4,756.1C739.3,769.0 741.3,787.0 743.2,799.6C745.1,812.2 747.1,826.9 749.0,832.9C750.9,838.9 752.9,845.3 754.8,845.3C756.5,845.3 758.2,837.7 759.9,828.6C761.1,822.2 762.3,798.0 763.5,785.1C764.7,772.2 765.9,753.7 767.1,750.3C769.3,744.0 771.5,740.1 773.7,740.1C776.1,740.1 778.5,745.4 780.9,750.3C782.8,754.3 784.8,766.1 786.7,770.6C789.1,776.2 791.6,782.9 794.0,782.9C796.4,782.9 798.8,776.8 801.2,770.6C802.7,766.8 804.1,752.5 805.6,750.3C808.0,746.8 810.4,746.3 812.8,744.4C815.2,742.4 817.7,741.7 820.1,738.6C822.0,736.2 824.0,722.7 825.9,722.7C828.3,722.7 830.8,730.8 833.2,738.6C834.6,743.2 836.1,757.3 837.5,761.9C839.0,766.6 840.4,772.0 841.9,772.0C844.3,772.0 846.7,765.5 849.1,760.4C850.6,757.3 852.0,748.7 853.5,747.4C855.4,745.6 857.4,744.4 859.3,744.4C862.2,744.4 865.1,745.2 868.0,745.2C870.4,745.2 872.8,735.8 875.2,732.8C877.1,730.4 879.1,727.6 881.0,727.0C883.9,726.2 886.8,725.6 889.7,725.6C892.6,725.6 895.5,726.3 898.4,726.3C900.3,726.3 902.3,719.4 904.2,715.4C905.7,712.4 907.1,706.3 908.6,705.3C910.5,704.0 912.5,703.1 914.4,703.1C916.3,703.1 918.3,708.9 920.2,712.5C922.1,716.1 924.1,725.6 926.0,725.6C927.9,725.6 929.9,719.4 931.8,716.9C933.3,715.0 934.7,711.8 936.2,711.8C938.6,711.8 941.0,715.3 943.4,718.3C945.3,720.7 947.3,727.6 949.2,729.9C952.1,733.4 955.0,735.8 957.9,737.2C960.8,738.6 963.7,740.1 966.6,740.1C970.0,740.1 973.4,737.8 976.8,736.5C979.7,735.4 982.6,732.8 985.5,732.8C988.9,732.8 992.2,734.3 995.6,734.3C997.5,734.3 999.5,731.5 1001.4,729.9C1004.1,727.6 1006.7,722.0 1009.4,722.0C1012.1,722.0 1014.7,727.9 1017.4,729.9C1019.8,731.7 1022.3,734.3 1024.7,734.3C1027.1,734.3 1029.5,731.1 1031.9,730.7C1034.3,730.3 1036.8,729.9 1039.2,729.9C1041.6,729.9 1044.0,734.7 1046.4,737.2C1049.3,740.2 1052.2,746.6 1055.1,746.6C1057.0,746.6 1059.0,737.6 1060.9,734.3C1062.4,731.8 1063.8,728.0 1065.3,727.8C1068.7,727.2 1072.0,727.5 1075.4,727.0C1077.3,726.7 1079.3,723.7 1081.2,721.2C1083.1,718.7 1085.1,712.7 1087.0,711.1C1089.9,708.7 1092.8,706.7 1095.7,706.7C1098.6,706.7 1101.5,709.3 1104.4,712.5C1106.4,714.6 1108.3,722.7 1110.3,727.0C1111.7,730.2 1113.2,734.3 1114.6,735.7C1116.1,737.2 1117.5,738.6 1119.0,738.6C1121.4,738.6 1123.8,734.0 1126.2,731.4C1128.6,728.8 1131.1,724.3 1133.5,722.7C1134.0,722.4 1134.4,722.0 1134.9,722.0C1140.2,722.0 1145.6,723.6 1150.9,725.6C1153.8,726.7 1156.7,730.4 1159.6,732.8C1162.5,735.2 1165.4,738.1 1168.3,740.1C1171.7,742.4 1175.0,743.3 1178.4,745.9C1181.3,748.2 1184.2,752.7 1187.1,756.1C1189.5,759.0 1192.0,763.1 1194.4,764.8C1197.3,766.9 1200.2,768.4 1203.1,769.1C1206.5,769.9 1209.8,769.9 1213.2,770.6C1216.6,771.3 1220.0,774.2 1223.4,774.2C1225.3,774.2 1227.3,771.5 1229.2,770.6C1231.6,769.4 1234.1,767.7 1236.5,767.7C1239.9,767.7 1243.2,769.6 1246.6,770.6C1250.5,771.8 1254.3,773.2 1258.2,774.2C1261.6,775.1 1265.0,776.0 1268.4,776.4C1271.8,776.8 1275.1,776.7 1278.5,777.1C1281.4,777.4 1284.4,778.8 1287.3,780.4C1289.7,781.7 1292.1,785.8 1294.5,787.7C1297.4,790.0 1300.3,792.4 1303.2,793.5C1307.1,794.9 1310.9,795.4 1314.8,796.4C1318.2,797.3 1321.6,799.3 1325.0,799.3C1328.4,799.3 1331.7,799.3 1335.1,799.3C1337.5,799.3 1340.0,796.7 1342.4,794.9C1344.8,793.1 1347.2,788.9 1349.6,787.7C1352.5,786.2 1355.4,784.8 1358.3,784.8C1360.7,784.8 1363.2,788.0 1365.6,790.6C1367.5,792.6 1369.5,797.6 1371.4,799.3C1374.3,801.8 1377.2,804.3 1380.1,804.3C1382.5,804.3 1385.0,800.5 1387.4,796.4C1389.3,793.1 1391.3,781.7 1393.2,776.1C1395.6,769.2 1398.0,764.1 1400.4,758.6C1402.8,753.0 1405.3,748.5 1407.7,742.7C1410.1,737.0 1412.5,727.8 1414.9,723.8C1416.8,720.6 1418.8,717.1 1420.7,716.6C1422.2,716.2 1423.6,715.9 1425.1,715.9C1427.5,715.9 1429.9,719.2 1432.3,722.4C1433.8,724.4 1435.2,731.6 1436.7,732.5C1438.1,733.4 1439.6,734.0 1441.0,734.0C1442.9,734.0 1444.9,731.2 1446.8,728.2C1448.3,726.0 1449.7,717.7 1451.2,715.1C1453.1,711.6 1455.1,707.9 1457.0,707.9C1458.9,707.9 1460.9,711.0 1462.8,715.1C1464.2,718.1 1465.7,730.1 1467.1,739.8C1468.6,749.7 1470.0,765.8 1471.5,776.1C1472.9,786.1 1474.4,798.6 1475.8,802.2C1477.7,807.0 1479.7,810.9 1481.6,810.9C1483.5,810.9 1485.5,807.2 1487.4,802.2C1488.9,798.4 1490.3,779.9 1491.8,768.8C1493.3,757.7 1494.7,743.2 1496.2,735.4C1498.1,725.1 1500.1,715.9 1502.0,712.2C1503.9,708.5 1505.9,706.1 1507.8,705.0C1509.7,703.9 1511.7,702.8 1513.6,702.8C1515.5,702.8 1517.5,706.2 1519.4,710.8C1520.8,714.2 1522.3,728.3 1523.7,739.8C1525.2,751.6 1526.6,767.5 1528.1,783.3C1529.5,798.7 1531.0,819.6 1532.4,834.1C1533.4,843.9 1534.3,855.9 1535.3,860.2C1536.3,864.6 1537.2,868.9 1538.2,868.9C1539.7,868.9 1541.1,864.5 1542.6,860.2C1544.0,856.0 1545.5,842.9 1546.9,837.0C1548.4,831.0 1549.8,825.8 1551.3,822.5C1552.7,819.3 1554.2,816.1 1555.6,815.2C1557.5,814.0 1559.5,813.0 1561.4,813.0C1563.4,813.0 1565.3,817.4 1567.3,817.4C1569.7,817.4 1572.1,816.7 1574.5,815.9C1576.9,815.1 1579.4,811.3 1581.8,808.0C1584.2,804.7 1586.6,798.4 1589.0,794.9C1591.4,791.4 1593.9,787.0 1596.3,786.2C1598.7,785.4 1601.1,784.8 1603.5,784.8C1605.4,784.8 1607.4,789.1 1609.3,793.5C1610.8,796.8 1612.2,805.9 1613.7,812.3C1615.1,818.5 1616.6,826.5 1618.0,831.2C1619.5,836.0 1620.9,841.2 1622.4,842.8C1623.8,844.3 1625.3,845.7 1626.7,845.7C1628.2,845.7 1629.6,842.9 1631.1,839.9C1632.5,836.9 1634.0,824.4 1635.4,819.6C1637.3,813.2 1639.3,808.6 1641.2,805.1C1643.6,800.7 1646.1,796.7 1648.5,794.9C1651.4,792.8 1654.3,791.4 1657.2,790.6C1661.6,789.5 1665.9,789.0 1670.3,788.4C1675.1,787.8 1680.0,786.9 1684.8,786.9C1689.6,786.9 1694.5,789.1 1699.3,789.1C1703.6,789.1 1708.0,785.5 1712.3,785.5C1717.1,785.5 1722.0,786.9 1726.8,786.9C1729.2,786.9 1731.7,780.9 1734.1,779.0C1736.5,777.1 1738.9,775.1 1741.3,774.6C1745.2,773.8 1749.0,774.1 1752.9,773.2C1755.3,772.6 1757.8,768.5 1760.2,765.9C1763.1,762.8 1766.0,759.1 1768.9,755.7C1771.8,752.3 1774.7,749.2 1777.6,745.6C1780.5,742.0 1783.4,737.3 1786.3,734.0C1789.2,730.7 1792.1,727.8 1795.0,725.3C1798.9,722.0 1802.7,719.5 1806.6,716.6C1810.5,713.7 1814.3,709.5 1818.2,707.9C1821.6,706.5 1825.0,706.0 1828.4,705.0C1831.8,704.0 1835.1,703.3 1838.5,702.1C1841.5,701.0 1844.4,697.7 1847.4,697.7C1850.5,697.7 1853.5,697.7 1856.6,697.7C1858.7,697.7 1860.9,701.3 1863.0,706.0C1864.5,709.4 1866.1,723.8 1867.6,733.6C1869.1,743.4 1870.7,756.7 1872.2,764.9C1873.7,773.1 1875.3,782.0 1876.8,785.2C1878.3,788.4 1879.9,791.6 1881.4,791.6C1883.2,791.6 1885.1,784.3 1886.9,779.7C1888.8,775.0 1890.6,765.2 1892.5,763.1C1895.3,760.0 1898.0,757.6 1900.8,757.6C1903.9,757.6 1906.9,761.6 1910.0,764.9C1913.1,768.2 1916.1,775.9 1919.2,779.7C1922.3,783.5 1925.3,788.9 1928.4,788.9C1930.8,788.9 1933.3,787.3 1935.7,785.2C1937.6,783.6 1939.4,774.6 1941.3,772.3C1943.1,770.1 1945.0,767.7 1946.8,767.7C1948.3,767.7 1949.9,773.7 1951.4,779.7C1952.6,784.6 1953.9,798.1 1955.1,807.3C1956.3,816.5 1957.6,826.2 1958.8,834.9C1960.0,843.3 1961.2,855.2 1962.4,858.8C1963.3,861.6 1964.3,864.4 1965.2,864.4C1966.7,864.4 1968.3,859.4 1969.8,853.3C1971.0,848.4 1972.3,828.8 1973.5,816.5C1974.7,804.2 1976.0,790.4 1977.2,779.7C1978.4,769.3 1979.6,758.9 1980.8,752.1C1982.0,745.1 1983.3,738.5 1984.5,735.5C1986.7,730.3 1988.8,727.1 1991.0,725.4C1993.4,723.5 1995.9,721.7 1998.3,721.7C2001.4,721.7 2004.4,721.7 2007.5,721.7C2009.0,721.7 2010.6,714.4 2012.1,711.6C2013.6,708.8 2015.2,705.2 2016.7,704.2C2018.2,703.2 2019.8,702.3 2021.3,702.3C2024.1,702.3 2026.8,705.9 2029.6,707.9C2032.1,709.6 2034.5,710.2 2037.0,713.4C2038.5,715.4 2040.1,725.8 2041.6,730.0C2043.1,734.2 2044.7,740.1 2046.2,740.1C2048.3,740.1 2050.5,736.5 2052.6,731.8C2054.1,728.5 2055.7,709.3 2057.2,706.0C2059.7,700.7 2062.1,700.0 2064.6,696.8C2066.4,694.4 2068.3,690.8 2070.1,689.5C2072.0,688.1 2073.8,686.7 2075.7,686.7C2077.2,686.7 2078.8,691.4 2080.3,696.8C2081.5,701.0 2082.7,714.7 2083.9,724.4C2085.1,734.3 2086.4,748.1 2087.6,755.7C2089.1,765.2 2090.7,777.8 2092.2,777.8C2093.7,777.8 2095.3,771.6 2096.8,766.8C2098.0,762.9 2099.3,751.7 2100.5,750.2C2101.7,748.7 2103.0,747.5 2104.2,747.5C2107.0,747.5 2109.7,753.9 2112.5,753.9C2114.9,753.9 2117.4,750.7 2119.8,748.4C2122.3,746.1 2124.7,744.2 2127.2,739.2C2128.4,736.7 2129.7,726.7 2130.9,724.4C2132.1,722.1 2133.4,719.8 2134.6,719.8C2136.4,719.8 2138.3,726.0 2140.1,733.6C2141.3,738.7 2142.6,756.8 2143.8,770.5C2145.0,784.2 2146.3,801.0 2147.5,816.5C2148.7,831.6 2149.9,851.7 2151.1,862.5C2152.3,873.6 2153.6,888.3 2154.8,888.3C2156.0,888.3 2157.3,879.8 2158.5,871.7C2159.7,863.6 2161.0,841.0 2162.2,825.7C2163.4,810.4 2164.7,792.6 2165.9,779.7C2167.1,766.8 2168.4,752.1 2169.6,746.5C2170.8,741.0 2172.0,735.5 2173.2,735.5C2175.7,735.5 2178.1,737.3 2180.6,737.3C2182.4,737.3 2184.3,733.5 2186.1,730.0C2187.3,727.7 2188.6,721.2 2189.8,718.9C2191.6,715.4 2193.5,712.9 2195.3,711.6C2197.2,710.2 2199.0,709.0 2200.9,708.8" stroke="#808000" stroke-width="12"/>
<path class="c" d="M276.0,448.5C279.2,402.3 282.4,364.6 285.6,364.6C290.8,364.6 296.0,461.5 301.2,461.5C305.2,461.5 309.2,358.6 313.2,358.6C318.2,358.6 323.3,496.2 328.3,496.2C332.3,496.2 336.3,440.5 340.3,440.5C342.8,440.5 345.4,488.7 347.9,488.7C353.2,488.7 358.6,400.3 363.9,400.3C368.1,400.3 372.3,472.6 376.5,472.6C380.3,472.6 384.2,419.4 388.0,419.4C393.2,419.4 398.4,466.6 403.6,466.6C408.6,466.6 413.7,405.3 418.7,405.3C422.7,405.3 426.7,470.1 430.7,470.1C437.1,470.1 443.4,396.8 449.8,396.8C452.6,396.8 455.3,433.6 458.1,433.6C462.0,433.6 465.8,395.9 469.7,395.9C471.6,395.9 473.6,403.8 475.5,403.8C477.7,403.8 479.9,400.2 482.1,400.2C484.7,400.2 487.4,451.7 490.0,451.7C492.7,451.7 495.3,395.9 498.0,395.9C500.4,395.9 502.9,402.4 505.3,402.4C507.7,402.4 510.1,395.1 512.5,395.1C514.9,395.1 517.4,425.6 519.8,425.6C522.7,425.6 525.6,405.3 528.5,405.3C530.9,405.3 533.3,429.4 535.7,432.8C538.6,436.9 541.5,438.5 544.4,440.1C547.8,442.0 551.2,442.3 554.6,444.4C557.5,446.2 560.4,454.6 563.3,454.6C565.7,454.6 568.2,445.9 570.6,445.9C573.5,445.9 576.4,447.4 579.3,447.4C583.2,447.4 587.0,432.8 590.9,432.8C592.8,432.8 594.8,440.1 596.7,440.1C598.6,440.1 600.6,437.2 602.5,437.2C605.4,437.2 608.3,451.0 611.2,451.0C614.1,451.0 617.0,434.3 619.9,434.3C622.8,434.3 625.7,438.6 628.6,438.6C631.7,438.6 634.9,405.3 638.0,405.3C640.7,405.3 643.3,415.4 646.0,415.4C647.4,415.4 648.9,414.0 650.3,414.0C652.5,414.0 654.7,443.0 656.9,443.0C660.8,443.0 664.6,411.1 668.5,411.1C671.6,411.1 674.8,425.6 677.9,425.6C680.3,425.6 682.8,425.1 685.2,424.1C687.1,423.3 689.1,398.0 691.0,398.0C693.9,398.0 696.8,400.9 699.7,400.9C702.1,400.9 704.5,384.2 706.9,383.5C709.8,382.6 712.7,382.9 715.6,382.1C718.5,381.3 721.5,375.5 724.4,375.5C726.6,375.5 728.7,381.9 730.9,387.9C732.6,392.6 734.3,402.6 736.0,412.5C737.9,423.8 739.9,442.1 741.8,456.1C743.7,470.1 745.7,488.6 747.6,496.7C749.5,504.8 751.5,514.1 753.4,514.1C755.3,514.1 757.3,505.7 759.2,496.7C760.6,490.0 762.1,468.5 763.5,456.1C765.0,443.5 766.4,425.5 767.9,421.2C770.3,414.1 772.7,408.9 775.1,408.9C777.5,408.9 780.0,418.6 782.4,427.0C783.8,431.9 785.3,445.5 786.7,448.8C788.2,452.2 789.6,455.3 791.1,455.3C793.5,455.3 795.9,450.9 798.3,447.4C800.7,443.8 803.2,434.4 805.6,431.4C808.5,427.8 811.4,427.5 814.3,424.1C816.2,421.9 818.2,415.5 820.1,414.0C822.0,412.5 824.0,411.1 825.9,411.1C828.3,411.1 830.8,419.5 833.2,427.0C834.6,431.4 836.1,444.0 837.5,447.4C839.4,451.9 841.4,456.1 843.3,456.1C845.2,456.1 847.2,445.9 849.1,440.1C850.1,437.2 851.0,431.6 852.0,430.7C854.4,428.3 856.9,428.1 859.3,427.0C862.2,425.7 865.1,425.3 868.0,423.4C869.9,422.1 871.9,419.3 873.8,415.4C875.2,412.5 876.7,401.2 878.1,400.9C881.0,400.4 883.9,400.6 886.8,400.2C889.2,399.9 891.7,397.1 894.1,396.6C896.0,396.2 898.0,396.3 899.9,395.9C902.3,395.4 904.7,385.0 907.1,385.0C909.5,385.0 912.0,387.9 914.4,387.9C917.3,387.9 920.2,386.4 923.1,386.4C925.5,386.4 927.9,395.6 930.3,396.6C932.3,397.4 934.2,397.3 936.2,398.0C939.1,399.0 942.0,404.6 944.9,404.6C947.8,404.6 950.7,397.3 953.6,397.3C956.0,397.3 958.4,399.9 960.8,400.2C963.7,400.6 966.6,400.9 969.5,400.9C972.4,400.9 975.3,394.2 978.2,392.9C980.6,391.8 983.1,390.8 985.5,390.8C988.4,390.8 991.3,391.5 994.2,391.5C996.6,391.5 999.0,384.8 1001.4,382.1C1004.1,379.1 1006.7,374.1 1009.4,374.1C1012.1,374.1 1014.7,380.5 1017.4,382.8C1020.1,385.1 1022.7,388.6 1025.4,388.6C1029.3,388.6 1033.1,377.0 1037.0,377.0C1039.7,377.0 1042.3,384.7 1045.0,386.4C1047.2,387.8 1049.3,389.3 1051.5,389.3C1053.7,389.3 1055.8,384.9 1058.0,382.1C1059.9,379.6 1061.9,373.4 1063.8,373.4C1066.2,373.4 1068.7,374.8 1071.1,375.5C1073.8,376.3 1076.4,377.7 1079.1,377.7C1081.3,377.7 1083.4,375.7 1085.6,373.4C1087.0,371.9 1088.5,364.9 1089.9,363.9C1091.6,362.7 1093.3,361.8 1095.0,361.8C1097.2,361.8 1099.3,365.2 1101.5,368.3C1103.5,371.1 1105.4,377.1 1107.4,382.1C1109.3,387.0 1111.3,395.8 1113.2,398.0C1114.9,399.9 1116.5,401.7 1118.2,401.7C1120.4,401.7 1122.6,399.1 1124.8,396.6C1126.7,394.4 1128.7,386.1 1130.6,385.0C1133.0,383.7 1135.4,382.8 1137.8,382.8C1141.2,382.8 1144.6,383.8 1148.0,385.0C1149.9,385.7 1151.9,388.3 1153.8,390.0C1155.7,391.7 1157.7,393.7 1159.6,395.1C1162.0,396.8 1164.4,398.5 1166.8,399.5C1170.2,400.8 1173.6,400.7 1177.0,402.4C1178.9,403.3 1180.9,407.2 1182.8,409.6C1185.2,412.5 1187.6,416.4 1190.0,418.3C1193.4,421.0 1196.8,424.1 1200.2,424.1C1203.6,424.1 1206.9,423.0 1210.3,422.7C1213.7,422.4 1217.1,422.4 1220.5,422.0C1223.4,421.7 1226.3,419.9 1229.2,418.3C1232.1,416.7 1235.0,412.6 1237.9,411.1C1240.3,409.8 1242.8,408.2 1245.2,408.2C1249.5,408.2 1253.9,409.7 1258.2,410.4C1261.1,410.9 1264.0,411.8 1266.9,411.8C1269.8,411.8 1272.7,410.4 1275.6,410.4C1278.5,410.4 1281.4,411.3 1284.3,412.5C1285.8,413.1 1287.2,415.4 1288.7,416.9C1291.1,419.4 1293.6,423.6 1296.0,424.9C1299.4,426.8 1302.7,427.3 1306.1,428.5C1309.5,429.7 1312.9,430.5 1316.3,432.1C1319.2,433.5 1322.1,437.9 1325.0,438.6C1328.9,439.5 1332.7,440.1 1336.6,440.1C1340.0,440.1 1343.3,437.9 1346.7,437.2C1350.1,436.5 1353.5,435.7 1356.9,435.7C1359.3,435.7 1361.7,437.7 1364.1,440.1C1366.0,442.0 1368.0,449.1 1369.9,453.2C1371.8,457.3 1373.8,462.7 1375.7,464.8C1377.6,466.9 1379.6,469.1 1381.5,469.1C1383.9,469.1 1386.4,466.3 1388.8,463.3C1391.2,460.3 1393.7,450.5 1396.1,444.4C1398.5,438.4 1400.9,432.8 1403.3,427.0C1405.7,421.2 1408.2,414.9 1410.6,409.6C1412.5,405.4 1414.5,399.3 1416.4,398.0C1418.8,396.4 1421.2,395.1 1423.6,395.1C1426.0,395.1 1428.5,398.0 1430.9,400.9C1432.6,402.9 1434.2,409.5 1435.9,411.1C1437.4,412.5 1438.8,414.0 1440.3,414.0C1442.2,414.0 1444.2,411.9 1446.1,409.6C1447.8,407.5 1449.5,397.9 1451.2,395.1C1453.6,391.2 1456.0,387.1 1458.4,387.1C1460.3,387.1 1462.3,392.2 1464.2,398.0C1465.7,402.4 1467.1,416.1 1468.6,427.0C1470.0,437.6 1471.5,453.6 1472.9,463.3C1474.4,473.2 1475.8,484.8 1477.3,488.0C1478.7,491.1 1480.2,493.8 1481.6,493.8C1483.5,493.8 1485.5,490.2 1487.4,485.1C1488.9,481.3 1490.3,460.3 1491.8,448.8C1493.7,433.6 1495.7,416.9 1497.6,405.3C1499.5,393.7 1501.5,381.3 1503.4,376.3C1505.3,371.3 1507.3,367.1 1509.2,366.1C1510.7,365.3 1512.1,364.7 1513.6,364.7C1515.5,364.7 1517.5,368.4 1519.4,373.4C1520.8,377.1 1522.3,390.8 1523.7,405.3C1524.7,415.1 1525.6,436.1 1526.6,448.8C1528.1,468.1 1529.5,485.3 1531.0,499.6C1532.4,513.5 1533.9,528.9 1535.3,535.8C1536.3,540.5 1537.2,546.0 1538.2,546.0C1539.7,546.0 1541.1,543.4 1542.6,540.2C1544.0,537.1 1545.5,521.9 1546.9,514.1C1548.4,506.1 1549.8,496.2 1551.3,492.3C1553.2,487.2 1555.2,482.6 1557.1,482.2C1559.5,481.7 1561.9,481.4 1564.3,481.4C1565.8,481.4 1567.2,482.2 1568.7,482.2C1571.1,482.2 1573.6,478.9 1576.0,476.4C1578.4,474.0 1580.8,469.8 1583.2,466.2C1585.6,462.6 1588.1,457.6 1590.5,454.6C1592.4,452.2 1594.4,449.2 1596.3,448.8C1598.7,448.4 1601.1,448.1 1603.5,448.1C1605.4,448.1 1607.4,453.9 1609.3,459.0C1610.8,462.9 1612.2,471.0 1613.7,477.8C1615.1,484.4 1616.6,493.5 1618.0,499.6C1619.5,505.8 1620.9,512.6 1622.4,515.5C1623.8,518.3 1625.3,521.3 1626.7,521.3C1628.6,521.3 1630.6,517.0 1632.5,512.6C1634.0,509.3 1635.4,498.8 1636.9,493.8C1638.8,487.3 1640.8,481.8 1642.7,477.8C1645.1,472.9 1647.5,468.5 1649.9,466.2C1652.8,463.4 1655.7,461.3 1658.6,460.4C1662.5,459.2 1666.4,458.2 1670.3,458.2C1675.1,458.2 1680.0,459.1 1684.8,460.4C1688.2,461.3 1691.5,466.6 1694.9,467.7C1698.3,468.8 1701.7,469.8 1705.1,469.8C1708.5,469.8 1711.8,469.1 1715.2,469.1C1718.4,469.1 1721.5,474.2 1724.7,474.2C1727.3,474.2 1730.0,470.1 1732.6,467.7C1735.5,465.1 1738.4,460.0 1741.3,459.0C1745.2,457.7 1749.0,458.2 1752.9,456.8C1755.3,455.9 1757.8,450.9 1760.2,447.4C1763.1,443.2 1766.0,437.6 1768.9,432.8C1771.8,428.0 1774.7,422.6 1777.6,418.3C1780.5,414.0 1783.4,409.7 1786.3,406.7C1789.7,403.1 1793.1,399.9 1796.5,398.0C1799.9,396.1 1803.2,395.5 1806.6,393.7C1810.5,391.6 1814.3,387.6 1818.2,385.0C1822.1,382.4 1825.9,379.6 1829.8,377.7C1833.2,376.0 1836.6,375.0 1840.0,373.4C1842.5,372.2 1844.9,370.1 1847.4,369.3C1849.8,368.5 1852.3,367.5 1854.7,367.5C1856.9,367.5 1859.0,370.2 1861.2,373.9C1862.7,376.5 1864.3,387.8 1865.8,396.0C1867.3,404.2 1868.9,414.4 1870.4,423.6C1871.9,432.8 1873.5,443.0 1875.0,451.3C1876.2,458.0 1877.5,466.8 1878.7,469.7C1879.9,472.5 1881.1,475.2 1882.3,475.2C1884.2,475.2 1886.0,468.6 1887.9,464.1C1889.7,459.7 1891.6,449.2 1893.4,447.6C1895.9,445.4 1898.3,443.9 1900.8,443.9C1903.9,443.9 1906.9,448.0 1910.0,451.3C1913.1,454.6 1916.1,462.2 1919.2,466.0C1922.3,469.8 1925.3,475.2 1928.4,475.2C1930.8,475.2 1933.3,471.7 1935.7,467.8C1937.2,465.3 1938.8,455.4 1940.3,453.1C1941.8,450.8 1943.4,448.5 1944.9,448.5C1946.8,448.5 1948.6,452.1 1950.5,456.8C1951.7,459.8 1952.9,470.8 1954.1,478.9C1955.3,487.2 1956.6,497.3 1957.8,506.5C1959.0,515.7 1960.3,528.5 1961.5,534.1C1963.0,541.1 1964.6,548.8 1966.1,548.8C1967.6,548.8 1969.2,541.7 1970.7,534.1C1971.9,528.0 1973.2,509.6 1974.4,497.3C1975.6,485.0 1976.9,471.0 1978.1,460.5C1979.3,450.0 1980.6,439.3 1981.8,432.8C1983.0,426.5 1984.2,420.8 1985.4,418.1C1987.3,413.9 1989.1,410.6 1991.0,409.8C1993.4,408.7 1995.9,408.0 1998.3,408.0C2000.8,408.0 2003.2,408.9 2005.7,408.9C2007.5,408.9 2009.4,401.9 2011.2,397.9C2013.0,393.9 2014.9,387.3 2016.7,385.0C2019.8,381.2 2022.8,377.6 2025.9,377.6C2028.4,377.6 2030.8,381.8 2033.3,386.8C2034.8,389.9 2036.4,402.3 2037.9,407.1C2039.4,411.9 2041.0,416.8 2042.5,418.1C2044.3,419.7 2046.2,420.9 2048.0,420.9C2049.9,420.9 2051.7,418.0 2053.6,414.4C2055.1,411.4 2056.7,397.8 2058.2,390.5C2060.0,381.8 2061.9,371.0 2063.7,366.6C2065.5,362.2 2067.4,358.8 2069.2,357.4C2070.4,356.5 2071.7,355.5 2072.9,355.5C2074.4,355.5 2076.0,358.9 2077.5,362.9C2078.7,366.1 2080.0,377.1 2081.2,386.8C2082.4,396.5 2083.7,413.3 2084.9,423.6C2086.1,433.6 2087.3,445.6 2088.5,449.4C2090.0,454.3 2091.6,458.6 2093.1,458.6C2094.7,458.6 2096.2,455.0 2097.8,451.3C2099.3,447.7 2100.9,431.6 2102.4,429.2C2104.5,425.9 2106.7,423.6 2108.8,423.6C2111.9,423.6 2114.9,426.4 2118.0,426.4C2119.8,426.4 2121.7,424.7 2123.5,421.8C2124.7,419.9 2126.0,399.7 2127.2,396.0C2129.0,390.5 2130.9,385.9 2132.7,385.9C2134.6,385.9 2136.4,391.0 2138.3,397.9C2139.5,402.3 2140.7,418.7 2141.9,432.8C2143.1,447.3 2144.4,469.7 2145.6,488.1C2146.8,506.5 2148.1,527.3 2149.3,543.3C2150.5,559.3 2151.8,578.7 2153.0,585.7C2153.6,589.1 2154.2,593.0 2154.8,593.0C2155.7,593.0 2156.7,588.4 2157.6,583.8C2158.8,577.7 2160.1,558.9 2161.3,543.3C2162.5,527.7 2163.8,504.6 2165.0,488.1C2166.5,467.6 2168.1,444.4 2169.6,432.8C2170.8,423.8 2172.0,414.4 2173.2,412.6C2175.1,409.8 2176.9,408.5 2178.8,408.0C2180.6,407.5 2182.5,407.6 2184.3,407.1C2186.1,406.6 2188.0,401.6 2189.8,397.9C2191.6,394.2 2193.5,384.7 2195.3,384.1C2197.2,383.5 2199.0,383.1 2200.9,383.1" stroke="#000086" stroke-width="12"/>
</g>
<rect x="276" y="92.3" width="1925" height="1549.7" fill="none" stroke="#000" stroke-width="8"/>
<line x1="325" x2="325" y1="1613" y2="1642" stroke="#000" stroke-width="6.5"/>
<line x1="680" x2="680" y1="1613" y2="1642" stroke="#000" stroke-width="6.5"/>
<line x1="1035" x2="1035" y1="1613" y2="1642" stroke="#000" stroke-width="6.5"/>
<line x1="1390" x2="1390" y1="1613" y2="1642" stroke="#000" stroke-width="6.5"/>
<line x1="1745" x2="1745" y1="1613" y2="1642" stroke="#000" stroke-width="6.5"/>
<line x1="2100" x2="2100" y1="1613" y2="1642" stroke="#000" stroke-width="6.5"/>
<text transform="translate(245.00,1752.91) scale(0.9642,1)" font-size="101.27" font-weight="bold" stroke="#000" stroke-width="0.8">525</text>
<text transform="translate(597.57,1752.91) scale(0.9710,1)" font-size="101.27" font-weight="bold" stroke="#000" stroke-width="0.8">700</text>
<text transform="translate(953.70,1752.91) scale(0.9654,1)" font-size="101.27" font-weight="bold" stroke="#000" stroke-width="0.8">875</text>
<text transform="translate(1279.73,1752.91) scale(0.9780,1)" font-size="101.27" font-weight="bold" clip-path="url(#k0)" stroke="#000" stroke-width="0.8">1050</text>
<text transform="translate(1633.53,1752.91) scale(0.9784,1)" font-size="101.27" font-weight="bold" clip-path="url(#k1)" stroke="#000" stroke-width="0.8">1225</text>
<text transform="translate(1988.73,1752.91) scale(0.9780,1)" font-size="101.27" font-weight="bold" clip-path="url(#k2)" stroke="#000" stroke-width="0.8">1400</text>
<text transform="translate(659.18,1914.50) scale(0.9956,1)" font-size="121.06" font-weight="bold" stroke="#000" stroke-width="0.8"><tspan font-size="125.29">W</tspan>avenumber</text>
<text transform="translate(1482.47,1913.85) scale(0.9365,1)" font-size="120.69" font-weight="bold">(</text>
<text transform="translate(1522.96,1914.50) scale(1.0017,1)" font-size="121.06" font-weight="bold" stroke="#000" stroke-width="0.8">cm</text>
<text transform="translate(1698.26,1865.20) scale(1.0335,1)" font-size="85.32" font-weight="bold" clip-path="url(#k3)" stroke="#000" stroke-width="0.8">-1</text>
<text transform="translate(1775.09,1913.85) scale(0.9365,1)" font-size="120.69" font-weight="bold">)</text>
<text transform="translate(192.10,1683.89) rotate(-90) scale(0.9741,1)" font-size="130.12" font-weight="bold" stroke="#000" stroke-width="0.8"><tspan font-size="136.63">T</tspan>ransmittance</text>
<text transform="translate(191.33,739.88) rotate(-90) scale(0.8647,1)" font-size="129.49" font-weight="bold">(</text>
<text transform="translate(192.10,696.61) rotate(-90) scale(0.9727,1)" font-size="130.12" font-weight="bold" stroke="#000" stroke-width="0.8">arb.</text>
<text transform="translate(192.10,427.25) rotate(-90) scale(0.9734,1)" font-size="130.12" font-weight="bold" stroke="#000" stroke-width="0.8">units</text>
<text transform="translate(190.98,118.71) rotate(-90) scale(0.8890,1)" font-size="128.74" font-weight="bold">)</text>
<text transform="translate(471.03,355.10) scale(0.9700,1)" font-size="93.61" font-weight="bold" stroke="#000" stroke-width="1.8">P3</text>
<text transform="translate(471.01,689.80) scale(0.9950,1)" font-size="91.57" font-weight="bold" stroke="#000" stroke-width="1.8">P2</text>
<text transform="translate(470.83,1004.20) scale(1.0157,1)" font-size="92.30" font-weight="bold" clip-path="url(#k4)" stroke="#000" stroke-width="1.8">P1</text>
<text transform="translate(471.03,1281.70) scale(0.9925,1)" font-size="91.43" font-weight="bold" stroke="#000" stroke-width="1.8">P0</text>
<text transform="translate(1957.53,189.00) scale(1.0137,1)" font-size="80.36" font-weight="bold" stroke="#000" stroke-width="2.0"><tspan font-size="83.58">C</tspan>o<tspan font-size="83.58">P</tspan>c</text>
<text transform="translate(1957.63,302.50) scale(0.9949,1)" font-size="82.70" font-weight="bold" stroke="#000" stroke-width="2.0">C60</text>
<text transform="translate(1887.97,219.85) scale(1.0124,1)" font-size="111.27" font-weight="bold" stroke="#000" stroke-width="0.60" stroke-linejoin="miter">*</text>
<text transform="translate(726.67,604.95) scale(1.0124,1)" font-size="111.27" font-weight="bold" stroke="#000" stroke-width="0.60" stroke-linejoin="miter">*</text>
<text transform="translate(773.07,550.55) scale(1.0124,1)" font-size="111.27" font-weight="bold" stroke="#000" stroke-width="0.60" stroke-linejoin="miter">*</text>
<text transform="translate(825.27,549.85) scale(1.0124,1)" font-size="111.27" font-weight="bold" stroke="#000" stroke-width="0.60" stroke-linejoin="miter">*</text>
<text transform="translate(1098.37,497.55) scale(1.0124,1)" font-size="111.27" font-weight="bold" stroke="#000" stroke-width="0.60" stroke-linejoin="miter">*</text>
<text transform="translate(1416.87,509.15) scale(1.0124,1)" font-size="111.27" font-weight="bold" stroke="#000" stroke-width="0.60" stroke-linejoin="miter">*</text>
<text transform="translate(1457.47,588.25) scale(1.0124,1)" font-size="111.27" font-weight="bold" stroke="#000" stroke-width="0.60" stroke-linejoin="miter">*</text>
<text transform="translate(1514.77,636.85) scale(1.0124,1)" font-size="111.27" font-weight="bold" stroke="#000" stroke-width="0.60" stroke-linejoin="miter">*</text>
<text transform="translate(1610.47,617.25) scale(1.0124,1)" font-size="111.27" font-weight="bold" stroke="#000" stroke-width="0.60" stroke-linejoin="miter">*</text>
<text transform="translate(1855.27,571.75) scale(1.0124,1)" font-size="111.27" font-weight="bold" stroke="#000" stroke-width="0.60" stroke-linejoin="miter">*</text>
<text transform="translate(1945.47,649.15) scale(1.0124,1)" font-size="111.27" font-weight="bold" stroke="#000" stroke-width="0.60" stroke-linejoin="miter">*</text>
<text transform="translate(2130.97,736.35) scale(1.0124,1)" font-size="111.27" font-weight="bold" stroke="#000" stroke-width="0.60" stroke-linejoin="miter">*</text>
<text transform="translate(729.57,939.75) scale(1.0124,1)" font-size="111.27" font-weight="bold" stroke="#000" stroke-width="0.60" stroke-linejoin="miter">*</text>
<text transform="translate(776.27,876.65) scale(1.0124,1)" font-size="111.27" font-weight="bold" stroke="#000" stroke-width="0.60" stroke-linejoin="miter">*</text>
<text transform="translate(825.27,868.65) scale(1.0124,1)" font-size="111.27" font-weight="bold" stroke="#000" stroke-width="0.60" stroke-linejoin="miter">*</text>
<text transform="translate(1097.97,833.15) scale(1.0124,1)" font-size="111.27" font-weight="bold" stroke="#000" stroke-width="0.60" stroke-linejoin="miter">*</text>
<text transform="translate(1416.87,833.55) scale(1.0124,1)" font-size="111.27" font-weight="bold" stroke="#000" stroke-width="0.60" stroke-linejoin="miter">*</text>
<text transform="translate(1457.47,908.95) scale(1.0124,1)" font-size="111.27" font-weight="bold" stroke="#000" stroke-width="0.60" stroke-linejoin="miter">*</text>
<text transform="translate(1517.27,961.95) scale(1.0124,1)" font-size="111.27" font-weight="bold" stroke="#000" stroke-width="0.60" stroke-linejoin="miter">*</text>
<text transform="translate(1610.87,942.35) scale(1.0124,1)" font-size="111.27" font-weight="bold" stroke="#000" stroke-width="0.60" stroke-linejoin="miter">*</text>
<text transform="translate(1852.97,890.05) scale(1.0124,1)" font-size="111.27" font-weight="bold" stroke="#000" stroke-width="0.60" stroke-linejoin="miter">*</text>
<text transform="translate(1945.97,965.55) scale(1.0124,1)" font-size="111.27" font-weight="bold" stroke="#000" stroke-width="0.60" stroke-linejoin="miter">*</text>
<text transform="translate(2132.77,1041.05) scale(1.0124,1)" font-size="111.27" font-weight="bold" stroke="#000" stroke-width="0.60" stroke-linejoin="miter">*</text>
<text transform="translate(731.67,1170.55) scale(1.0124,1)" font-size="111.27" font-weight="bold" stroke="#000" stroke-width="0.60" stroke-linejoin="miter">*</text>
<text transform="translate(778.87,1145.15) scale(1.0124,1)" font-size="111.27" font-weight="bold" stroke="#000" stroke-width="0.60" stroke-linejoin="miter">*</text>
<text transform="translate(823.47,1152.35) scale(1.0124,1)" font-size="111.27" font-weight="bold" stroke="#000" stroke-width="0.60" stroke-linejoin="miter">*</text>
<text transform="translate(1097.97,1103.35) scale(1.0124,1)" font-size="111.27" font-weight="bold" stroke="#000" stroke-width="0.60" stroke-linejoin="miter">*</text>
<text transform="translate(1413.17,1117.15) scale(1.0124,1)" font-size="111.27" font-weight="bold" stroke="#000" stroke-width="0.60" stroke-linejoin="miter">*</text>
<text transform="translate(1454.87,1161.35) scale(1.0124,1)" font-size="111.27" font-weight="bold" stroke="#000" stroke-width="0.60" stroke-linejoin="miter">*</text>
<text transform="translate(1514.77,1192.65) scale(1.0124,1)" font-size="111.27" font-weight="bold" stroke="#000" stroke-width="0.60" stroke-linejoin="miter">*</text>
<text transform="translate(1607.57,1142.55) scale(1.0124,1)" font-size="111.27" font-weight="bold" stroke="#000" stroke-width="0.60" stroke-linejoin="miter">*</text>
<text transform="translate(1851.57,1138.75) scale(1.0124,1)" font-size="111.27" font-weight="bold" stroke="#000" stroke-width="0.60" stroke-linejoin="miter">*</text>
<text transform="translate(1939.47,1198.65) scale(1.0124,1)" font-size="111.27" font-weight="bold" stroke="#000" stroke-width="0.60" stroke-linejoin="miter">*</text>
<text transform="translate(2138.37,1295.25) scale(1.0124,1)" font-size="111.27" font-weight="bold" stroke="#000" stroke-width="0.60" stroke-linejoin="miter">*</text>
<text transform="translate(726.67,1488.65) scale(1.0124,1)" font-size="111.27" font-weight="bold" stroke="#000" stroke-width="0.60" stroke-linejoin="miter">*</text>
<text transform="translate(773.07,1456.05) scale(1.0124,1)" font-size="111.27" font-weight="bold" stroke="#000" stroke-width="0.60" stroke-linejoin="miter">*</text>
<text transform="translate(825.27,1461.15) scale(1.0124,1)" font-size="111.27" font-weight="bold" stroke="#000" stroke-width="0.60" stroke-linejoin="miter">*</text>
<text transform="translate(1097.97,1403.35) scale(1.0124,1)" font-size="111.27" font-weight="bold" stroke="#000" stroke-width="0.60" stroke-linejoin="miter">*</text>
<text transform="translate(1416.47,1419.35) scale(1.0124,1)" font-size="111.27" font-weight="bold" stroke="#000" stroke-width="0.60" stroke-linejoin="miter">*</text>
<text transform="translate(1457.47,1469.35) scale(1.0124,1)" font-size="111.27" font-weight="bold" stroke="#000" stroke-width="0.60" stroke-linejoin="miter">*</text>
<text transform="translate(1514.77,1494.05) scale(1.0124,1)" font-size="111.27" font-weight="bold" stroke="#000" stroke-width="0.60" stroke-linejoin="miter">*</text>
<text transform="translate(1610.47,1447.65) scale(1.0124,1)" font-size="111.27" font-weight="bold" stroke="#000" stroke-width="0.60" stroke-linejoin="miter">*</text>
<text transform="translate(1855.27,1456.25) scale(1.0124,1)" font-size="111.27" font-weight="bold" stroke="#000" stroke-width="0.60" stroke-linejoin="miter">*</text>
<text transform="translate(1943.17,1505.05) scale(1.0124,1)" font-size="111.27" font-weight="bold" stroke="#000" stroke-width="0.60" stroke-linejoin="miter">*</text>
<text transform="translate(2135.57,1578.75) scale(1.0124,1)" font-size="111.27" font-weight="bold" stroke="#000" stroke-width="0.60" stroke-linejoin="miter">*</text>
<text transform="translate(1893.72,296.50) scale(0.9769,1)" font-size="64.60" font-weight="bold" stroke="#000" stroke-width="3.00" stroke-linejoin="miter">#</text>
<text transform="translate(307.52,564.10) scale(0.9769,1)" font-size="64.60" font-weight="bold" stroke="#000" stroke-width="3.00" stroke-linejoin="miter">#</text>
<text transform="translate(406.12,531.80) scale(0.9769,1)" font-size="64.60" font-weight="bold" stroke="#000" stroke-width="3.00" stroke-linejoin="miter">#</text>
<text transform="translate(2134.02,650.80) scale(0.9769,1)" font-size="64.60" font-weight="bold" stroke="#000" stroke-width="3.00" stroke-linejoin="miter">#</text>
<text transform="translate(308.82,968.80) scale(0.9769,1)" font-size="64.60" font-weight="bold" stroke="#000" stroke-width="3.00" stroke-linejoin="miter">#</text>
<text transform="translate(412.92,856.30) scale(0.9769,1)" font-size="64.60" font-weight="bold" stroke="#000" stroke-width="3.00" stroke-linejoin="miter">#</text>
<text transform="translate(2139.12,955.00) scale(0.9769,1)" font-size="64.60" font-weight="bold" stroke="#000" stroke-width="3.00" stroke-linejoin="miter">#</text>
<text transform="translate(308.92,1278.60) scale(0.9769,1)" font-size="64.60" font-weight="bold" stroke="#000" stroke-width="3.00" stroke-linejoin="miter">#</text>
<text transform="translate(408.62,1202.80) scale(0.9769,1)" font-size="64.60" font-weight="bold" stroke="#000" stroke-width="3.00" stroke-linejoin="miter">#</text>
<text transform="translate(2142.82,1202.80) scale(0.9769,1)" font-size="64.60" font-weight="bold" stroke="#000" stroke-width="3.00" stroke-linejoin="miter">#</text>
<text transform="translate(306.62,1591.80) scale(0.9769,1)" font-size="64.60" font-weight="bold" stroke="#000" stroke-width="3.00" stroke-linejoin="miter">#</text>
<text transform="translate(410.92,1486.70) scale(0.9769,1)" font-size="64.60" font-weight="bold" stroke="#000" stroke-width="3.00" stroke-linejoin="miter">#</text>
<text transform="translate(2139.52,1484.40) scale(0.9769,1)" font-size="64.60" font-weight="bold" stroke="#000" stroke-width="3.00" stroke-linejoin="miter">#</text>
<defs><clipPath id="k0"><path clip-rule="evenodd" d="M-5000,-5000H5000V5000H-5000ZM1.98,-13.60H23.24V3.46H1.98ZM37.93,-13.60H57.85V3.46H37.93Z"/></clipPath><clipPath id="k1"><path clip-rule="evenodd" d="M-5000,-5000H5000V5000H-5000ZM1.98,-13.60H23.24V3.46H1.98ZM37.93,-13.60H57.85V3.46H37.93Z"/></clipPath><clipPath id="k2"><path clip-rule="evenodd" d="M-5000,-5000H5000V5000H-5000ZM1.98,-13.60H23.24V3.46H1.98ZM37.93,-13.60H57.85V3.46H37.93Z"/></clipPath><clipPath id="k3"><path clip-rule="evenodd" d="M-5000,-5000H5000V5000H-5000ZM30.08,-11.46H47.93V2.92H30.08ZM60.43,-11.46H77.16V2.92H60.43Z"/></clipPath><clipPath id="k4"><path clip-rule="evenodd" d="M-5000,-5000H5000V5000H-5000ZM63.36,-12.39H82.20V3.15H63.36ZM96.67,-12.39H114.29V3.15H96.67Z"/></clipPath></defs>
</g></svg></body></html>
